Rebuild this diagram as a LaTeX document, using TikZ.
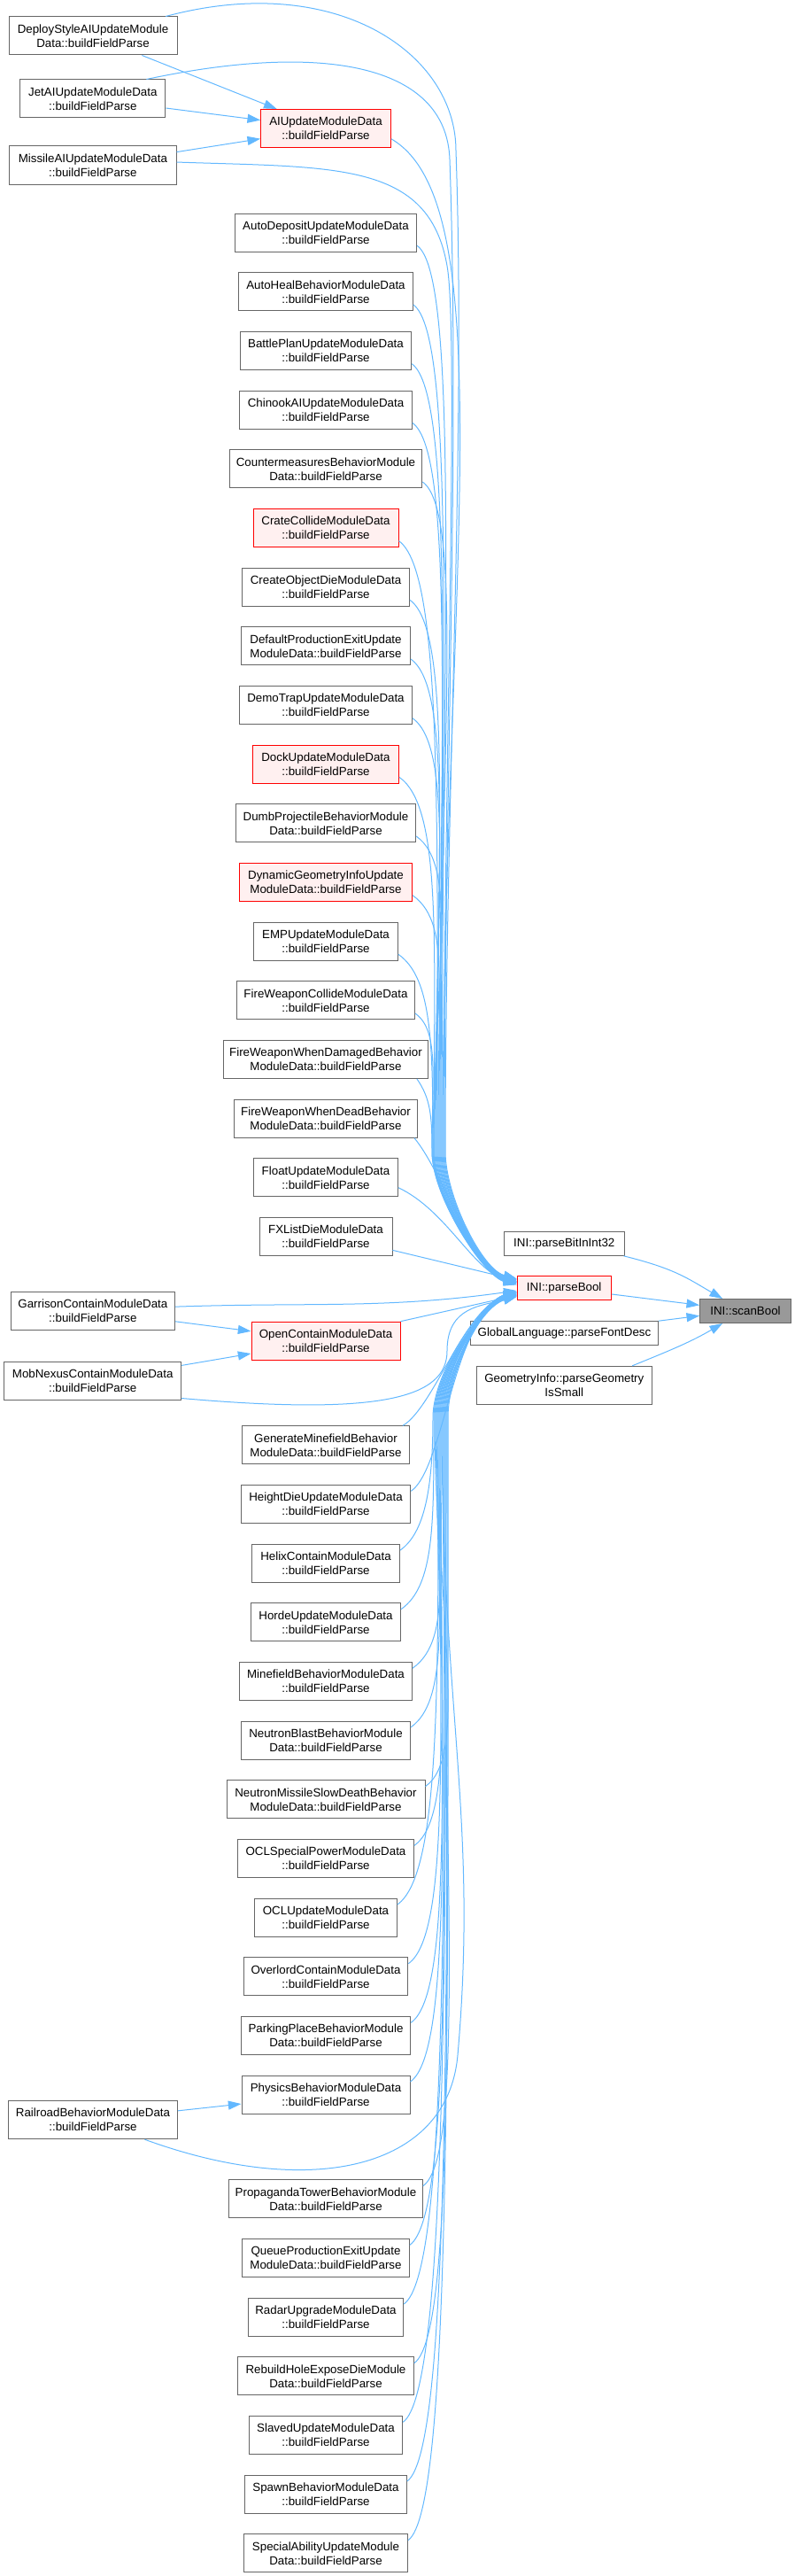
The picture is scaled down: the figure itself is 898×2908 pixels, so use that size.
\documentclass[tikz,border=0pt]{standalone}
\usepackage{fontspec}
\setmainfont{Liberation Sans}
\usepackage{xcolor}
\definecolor{edgeblue}{RGB}{99,184,255}
\definecolor{framegray}{RGB}{102,102,102}
\definecolor{rootgray}{RGB}{153,153,153}
\definecolor{hotred}{RGB}{255,0,0}
\definecolor{hotfill}{RGB}{255,240,240}
\usepackage{tikz}
\usetikzlibrary{arrows.meta, positioning}
\tikzset{
  fnbox/.style={draw=framegray, fill=white, line width=0.75pt,
    minimum height=32.25pt, inner xsep=3pt, inner ysep=2pt,
    align=center, font=\fontsize{10}{12}\selectfont},
  fnone/.style={fnbox, minimum height=20.25pt},
  fnhot/.style={fnbox, draw=hotred, fill=hotfill},
  fnroot/.style={fnone, fill=rootgray},
  callarrow/.style={-{Triangle[length=11pt,width=7.5pt]}, draw=edgeblue, line width=0.75pt},
  upleg/.style={out=-35, in=90, out distance=45pt},
  upfin/.style={out=-90, in=165, out distance=38pt, in distance=30pt},
  dnleg/.style={out=35, in=-90, out distance=45pt},
  dnfin/.style={out=90, in=195, out distance=38pt, in distance=30pt}
}
\begin{document}
\begin{tikzpicture}[x=0.75pt, y=0.75pt]
  \useasboundingbox (0,0) rectangle (898,-2908);

  \node[fnbox, minimum width=142.5pt] (deploy) at (105,-40.5) {DeployStyleAIUpdateModule\\Data::buildFieldParse};
  \node[fnbox, minimum width=123.2pt] (jetai) at (104.8,-111.5) {JetAIUpdateModuleData\\::buildFieldParse};
  \node[fnbox, minimum width=141.2pt] (missileai) at (104.9,-186.5) {MissileAIUpdateModuleData\\::buildFieldParse};
  \node[fnbox, minimum width=139.2pt] (garrison) at (104.9,-1479.8) {GarrisonContainModuleData\\::buildFieldParse};
  \node[fnbox, minimum width=150pt] (mobnexus) at (104.7,-1558.5) {MobNexusContainModuleData\\::buildFieldParse};
  \node[fnbox, minimum width=143pt] (railroad) at (105,-2393.2) {RailroadBehaviorModuleData\\::buildFieldParse};

  \node[fnhot, minimum width=110pt] (aiupdate) at (368,-145) {AIUpdateModuleData\\::buildFieldParse};
  \node[fnbox, minimum width=154pt, below=55.25pt of aiupdate] (autodeposit) {AutoDepositUpdateModuleData\\::buildFieldParse};
  \node[fnbox, minimum width=147.5pt, below=17pt of autodeposit] (autoheal) {AutoHealBehaviorModuleData\\::buildFieldParse};
  \node[fnbox, minimum width=145pt, below=17pt of autoheal] (battleplan) {BattlePlanUpdateModuleData\\::buildFieldParse};
  \node[fnbox, minimum width=146pt, below=17pt of battleplan] (chinook) {ChinookAIUpdateModuleData\\::buildFieldParse};
  \node[fnbox, minimum width=163.2pt, below=17pt of chinook] (counter) {CountermeasuresBehaviorModule\\Data::buildFieldParse};
  \node[fnhot, minimum width=123pt, below=17pt of counter] (crate) {CrateCollideModuleData\\::buildFieldParse};
  \node[fnbox, minimum width=141.7pt, below=17pt of crate] (createobj) {CreateObjectDieModuleData\\::buildFieldParse};
  \node[fnbox, minimum width=143.2pt, below=17pt of createobj] (defprod) {DefaultProductionExitUpdate\\ModuleData::buildFieldParse};
  \node[fnbox, minimum width=146pt, below=17pt of defprod] (demotrap) {DemoTrapUpdateModuleData\\::buildFieldParse};
  \node[fnhot, minimum width=123.7pt, below=17pt of demotrap] (dock) {DockUpdateModuleData\\::buildFieldParse};
  \node[fnbox, minimum width=152.5pt, below=17pt of dock] (dumbproj) {DumbProjectileBehaviorModule\\Data::buildFieldParse};
  \node[fnhot, minimum width=146.2pt, below=17pt of dumbproj] (dyngeom) {DynamicGeometryInfoUpdate\\ModuleData::buildFieldParse};
  \node[fnbox, minimum width=122.2pt, below=17pt of dyngeom] (emp) {EMPUpdateModuleData\\::buildFieldParse};
  \node[fnbox, minimum width=150.7pt, below=17pt of emp] (fwcollide) {FireWeaponCollideModuleData\\::buildFieldParse};
  \node[fnbox, minimum width=173.7pt, below=17pt of fwcollide] (fwdamaged) {FireWeaponWhenDamagedBehavior\\ModuleData::buildFieldParse};
  \node[fnbox, minimum width=155.2pt, below=17pt of fwdamaged] (fwdead) {FireWeaponWhenDeadBehavior\\ModuleData::buildFieldParse};
  \node[fnbox, minimum width=122pt, below=17pt of fwdead] (floatup) {FloatUpdateModuleData\\::buildFieldParse};
  \node[fnbox, minimum width=112.5pt, below=17pt of floatup] (fxlist) {FXListDieModuleData\\::buildFieldParse};
  \node[fnhot, minimum width=126pt, below=55.25pt of fxlist] (opencontain) {OpenContainModuleData\\::buildFieldParse};
  \node[fnbox, minimum width=141.7pt, below=55.25pt of opencontain] (genmine) {GenerateMinefieldBehavior\\ModuleData::buildFieldParse};
  \node[fnbox, minimum width=143.7pt, below=17pt of genmine] (heightdie) {HeightDieUpdateModuleData\\::buildFieldParse};
  \node[fnbox, minimum width=125.2pt, below=17pt of heightdie] (helix) {HelixContainModuleData\\::buildFieldParse};
  \node[fnbox, minimum width=126.7pt, below=17pt of helix] (horde) {HordeUpdateModuleData\\::buildFieldParse};
  \node[fnbox, minimum width=146pt, below=17pt of horde] (minefield) {MinefieldBehaviorModuleData\\::buildFieldParse};
  \node[fnbox, minimum width=143pt, below=17pt of minefield] (nblast) {NeutronBlastBehaviorModule\\Data::buildFieldParse};
  \node[fnbox, minimum width=168pt, below=17pt of nblast] (nmissile) {NeutronMissileSlowDeathBehavior\\ModuleData::buildFieldParse};
  \node[fnbox, minimum width=149.2pt, below=17pt of nmissile] (oclspecial) {OCLSpecialPowerModuleData\\::buildFieldParse};
  \node[fnbox, minimum width=120.5pt, below=17pt of oclspecial] (oclupdate) {OCLUpdateModuleData\\::buildFieldParse};
  \node[fnbox, minimum width=139.2pt, below=17pt of oclupdate] (overlord) {OverlordContainModuleData\\::buildFieldParse};
  \node[fnbox, minimum width=143.5pt, below=17pt of overlord] (parking) {ParkingPlaceBehaviorModule\\Data::buildFieldParse};
  \node[fnbox, minimum width=142.5pt, below=17pt of parking] (physics) {PhysicsBehaviorModuleData\\::buildFieldParse};
  \node[fnbox, minimum width=164pt, below=55.25pt of physics] (propaganda) {PropagandaTowerBehaviorModule\\Data::buildFieldParse};
  \node[fnbox, minimum width=141.5pt, below=17pt of propaganda] (queueprod) {QueueProductionExitUpdate\\ModuleData::buildFieldParse};
  \node[fnbox, minimum width=131.5pt, below=17pt of queueprod] (radar) {RadarUpgradeModuleData\\::buildFieldParse};
  \node[fnbox, minimum width=149pt, below=17pt of radar] (rebuild) {RebuildHoleExposeDieModule\\Data::buildFieldParse};
  \node[fnbox, minimum width=130pt, below=17pt of rebuild] (slaved) {SlavedUpdateModuleData\\::buildFieldParse};
  \node[fnbox, minimum width=137pt, below=17pt of slaved] (spawn) {SpawnBehaviorModuleData\\::buildFieldParse};
  \node[fnbox, minimum width=138.7pt, below=17pt of spawn] (special) {SpecialAbilityUpdateModule\\Data::buildFieldParse};

  \node[fnone, minimum width=102pt] (parsebit) at (637.3,-1403.8) {INI::parseBitInInt32};
  \node[fnhot, minimum height=20.25pt, minimum width=79.7pt] (parsebool) at (637.2,-1454.3) {INI::parseBool};
  \node[fnone, minimum width=158.7pt] (globallang) at (637.5,-1505.2) {GlobalLanguage::parseFontDesc};
  \node[fnbox, minimum width=148.5pt] (geominfo) at (637.3,-1563.8) {GeometryInfo::parseGeometry\\IsSmall};
  \node[fnroot, minimum width=77pt] (scanbool) at (842,-1480) {INI::scanBool};

  \draw[callarrow] (deploy) -- (aiupdate);
  \draw[callarrow] (jetai) -- (aiupdate);
  \draw[callarrow] (missileai) -- (aiupdate);
  \draw[callarrow] (garrison) -- (opencontain);
  \draw[callarrow] (mobnexus) -- (opencontain);
  \draw[callarrow] (railroad) -- (physics);

  \draw[callarrow] ([xshift=-10pt]deploy.north east) to[out=15, in=90, out distance=150pt, in distance=82pt] (515,-170) to[out=-88, in=90, out distance=250pt, in distance=300pt] (503,-1300) to[upfin] ([yshift=8pt]parsebool.west);
  \draw[callarrow] ([xshift=-16.5pt]jetai.north east) to[out=12, in=92, out distance=150pt, in distance=82pt] (508,-180) to[out=-88, in=90, out distance=250pt, in distance=300pt] (502,-1300) to[upfin] ([yshift=7pt]parsebool.west);
  \draw[callarrow] ([yshift=2.6pt]missileai.east) to[out=-2, in=100, out distance=135pt, in distance=90pt] (505,-300) to[out=-80, in=90, out distance=60pt, in distance=300pt] (501,-1300) to[upfin] ([yshift=6pt]parsebool.west);
  \draw[callarrow] ([yshift=-8.8pt]aiupdate.east) to[out=-30, in=90, out distance=112pt, in distance=470pt] (500,-1300) to[upfin] ([yshift=5pt]parsebool.west);
  \draw[callarrow] ([yshift=-11pt]autodeposit.east) to[upleg, in distance=419pt] (499,-1300) to[upfin] ([yshift=4pt]parsebool.west);
  \draw[callarrow] ([yshift=-11pt]autoheal.east) to[upleg, in distance=392pt] (498,-1300) to[upfin] ([yshift=8pt]parsebool.west);
  \draw[callarrow] ([yshift=-11pt]battleplan.east) to[upleg, in distance=365pt] (497,-1300) to[upfin] ([yshift=6pt]parsebool.west);
  \draw[callarrow] ([yshift=-11pt]chinook.east) to[upleg, in distance=337pt] (496,-1300) to[upfin] ([yshift=4pt]parsebool.west);
  \draw[callarrow] ([yshift=-11pt]counter.east) to[upleg, in distance=310pt] (495,-1300) to[upfin] ([yshift=7pt]parsebool.west);
  \draw[callarrow] ([yshift=-11pt]crate.east) to[upleg, in distance=283pt] (494,-1300) to[upfin] ([yshift=5pt]parsebool.west);
  \draw[callarrow] ([yshift=-11pt]createobj.east) to[upleg, in distance=255pt] (493,-1300) to[upfin] ([yshift=3pt]parsebool.west);
  \draw[callarrow] ([yshift=-11pt]defprod.east) to[upleg, in distance=228pt] (492,-1300) to[upfin] ([yshift=8pt]parsebool.west);
  \draw[callarrow] ([yshift=-11pt]demotrap.east) to[upleg, in distance=201pt] (491,-1300) to[upfin] ([yshift=6pt]parsebool.west);
  \draw[callarrow] ([yshift=-11pt]dock.east) to[upleg, in distance=173pt] (490,-1300) to[upfin] ([yshift=4pt]parsebool.west);
  \draw[callarrow] ([yshift=-11pt]dumbproj.east) to[upleg, in distance=146pt] (490,-1300) to[upfin] ([yshift=7pt]parsebool.west);
  \draw[callarrow] ([yshift=-11pt]dyngeom.east) to[upleg, in distance=119pt] (489,-1300) to[upfin] ([yshift=5pt]parsebool.west);
  \draw[callarrow] ([yshift=-11pt]emp.east) to[upleg, out distance=35pt, in distance=91pt] (489,-1300) to[upfin] ([yshift=3pt]parsebool.west);
  \draw[callarrow] ([yshift=-11pt]fwcollide.east) to[upleg, out distance=25pt, in distance=64pt] (488,-1300) to[upfin] ([yshift=6pt]parsebool.west);
  \draw[callarrow] ([xshift=-10pt]fwdamaged.south east) to[out=-55, in=90, out distance=20pt, in distance=30pt] (488,-1300) to[upfin] ([yshift=4pt]parsebool.west);
  \draw[callarrow] ([xshift=-3pt]fwdead.south east) to[out=-50, in=165, out distance=38pt, in distance=38pt] ([yshift=6pt]parsebool.west);
  \draw[callarrow] ([yshift=-8.5pt]floatup.east) to[out=-25, in=165, out distance=45pt, in distance=38pt] ([yshift=5pt]parsebool.west);
  \draw[callarrow] ([yshift=-11.5pt]fxlist.east) -- ([yshift=7pt]parsebool.west);

  \draw[callarrow] ([yshift=3.5pt]garrison.east) to[out=2, in=188] ([yshift=-2pt]parsebool.west);
  \draw[callarrow] (opencontain.north east) -- ([yshift=-6pt]parsebool.west);
  \draw[callarrow] ([yshift=1.5pt]mobnexus.south east) to[out=-5, in=-90, out distance=169pt, in distance=40pt] (505,-1525) to[dnfin] ([yshift=-7pt]parsebool.west);
  \draw[callarrow] ([xshift=-6pt]genmine.north east) to[out=30, in=195, out distance=30pt, in distance=45pt] ([yshift=-4pt]parsebool.west);
  \draw[callarrow] ([yshift=11pt]heightdie.east) to[out=35, in=195, out distance=35pt, in distance=55pt] ([yshift=-6pt]parsebool.west);
  \draw[callarrow] ([yshift=11pt]helix.east) to[dnleg, out distance=25pt, in distance=61pt] (489,-1600) to[dnfin] ([yshift=-3pt]parsebool.west);
  \draw[callarrow] ([yshift=11pt]horde.east) to[dnleg, out distance=35pt, in distance=89pt] (490,-1600) to[dnfin] ([yshift=-5pt]parsebool.west);
  \draw[callarrow] ([yshift=11pt]minefield.east) to[dnleg, in distance=116pt] (491,-1600) to[dnfin] ([yshift=-7pt]parsebool.west);
  \draw[callarrow] ([yshift=11pt]nblast.east) to[dnleg, in distance=143pt] (492,-1600) to[dnfin] ([yshift=-4pt]parsebool.west);
  \draw[callarrow] ([yshift=11pt]nmissile.east) to[dnleg, in distance=171pt] (493,-1600) to[dnfin] ([yshift=-6pt]parsebool.west);
  \draw[callarrow] ([yshift=11pt]oclspecial.east) to[dnleg, in distance=198pt] (494,-1600) to[dnfin] ([yshift=-3pt]parsebool.west);
  \draw[callarrow] ([yshift=11pt]oclupdate.east) to[dnleg, in distance=225pt] (495,-1600) to[dnfin] ([yshift=-5pt]parsebool.west);
  \draw[callarrow] ([yshift=11pt]overlord.east) to[dnleg, in distance=253pt] (496,-1600) to[dnfin] ([yshift=-7pt]parsebool.west);
  \draw[callarrow] ([yshift=11pt]parking.east) to[dnleg, in distance=280pt] (497,-1600) to[dnfin] ([yshift=-4pt]parsebool.west);
  \draw[callarrow] ([yshift=11pt]physics.east) to[dnleg, in distance=307pt] (498,-1600) to[dnfin] ([yshift=-6pt]parsebool.west);
  \draw[callarrow] ([xshift=-28pt]railroad.south east) to[out=-20, in=-95, out distance=150pt, in distance=97pt] (517,-2320) to[out=85, in=-90, out distance=200pt, in distance=250pt] (499,-1600) to[dnfin] ([yshift=-5pt]parsebool.west);
  \draw[callarrow] ([yshift=11pt]propaganda.east) to[dnleg, in distance=356pt] (500,-1600) to[dnfin] ([yshift=-3pt]parsebool.west);
  \draw[callarrow] ([yshift=11pt]queueprod.east) to[dnleg, in distance=383pt] (501,-1600) to[dnfin] ([yshift=-7pt]parsebool.west);
  \draw[callarrow] ([yshift=11pt]radar.east) to[dnleg, in distance=410pt] (502,-1600) to[dnfin] ([yshift=-5pt]parsebool.west);
  \draw[callarrow] ([yshift=11pt]rebuild.east) to[dnleg, in distance=438pt] (503,-1600) to[dnfin] ([yshift=-4pt]parsebool.west);
  \draw[callarrow] ([yshift=11pt]slaved.east) to[dnleg, in distance=465pt] (504,-1600) to[dnfin] ([yshift=-6pt]parsebool.west);
  \draw[callarrow] ([yshift=11pt]spawn.east) to[dnleg, in distance=492pt] (505,-1600) to[dnfin] ([yshift=-3pt]parsebool.west);
  \draw[callarrow] ([yshift=11pt]special.east) to[dnleg, in distance=520pt] (506,-1600) to[dnfin] ([yshift=-5pt]parsebool.west);

  \draw[callarrow] ([xshift=-1pt]parsebit.south east) to[out=-14, in=150, out distance=45pt, in distance=35pt] ([xshift=19.5pt]scanbool.north west);
  \draw[callarrow] ([yshift=-5pt]parsebool.east) -- ([yshift=5pt]scanbool.west);
  \draw[callarrow] (globallang.north east) -- ([yshift=-4pt]scanbool.west);
  \draw[callarrow] ([xshift=-17pt]geominfo.north east) to[out=22, in=-150, out distance=40pt, in distance=30pt] ([xshift=19.5pt]scanbool.south west);
\end{tikzpicture}
\end{document}
